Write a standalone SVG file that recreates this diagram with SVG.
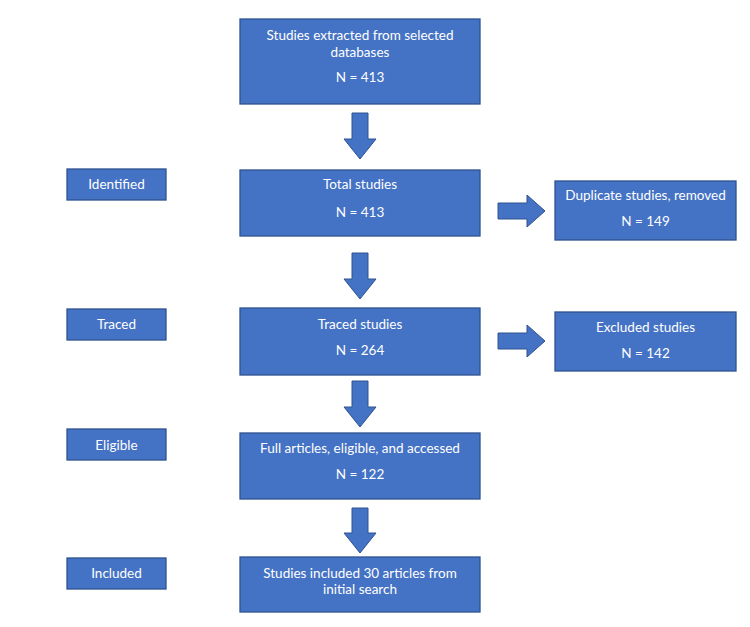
<svg xmlns="http://www.w3.org/2000/svg" width="750" height="627" viewBox="0 0 750 627">
<style>
.box{fill:#4472C4;stroke:#2F528F;stroke-width:1.3}
.arr{fill:#4472C4;stroke:#2F528F;stroke-width:1}
text{font-family:Lato,"Liberation Sans",sans-serif;font-size:13.5px;fill:#FFFFFF;text-anchor:middle}
</style>
<rect width="750" height="627" fill="#FFFFFF"/>
<g id="n-extracted"><rect class="box" x="240" y="19" width="240" height="85"/><text x="360" y="40">Studies extracted from selected</text><text x="360" y="57">databases</text><text x="360" y="82">N = 413</text></g>
<g id="n-total"><rect class="box" x="240" y="170" width="240" height="66"/><text x="360" y="189">Total studies</text><text x="360" y="217">N = 413</text></g>
<g id="n-traced"><rect class="box" x="240" y="308" width="240" height="67"/><text x="360" y="329">Traced studies</text><text x="360" y="355">N = 264</text></g>
<g id="n-full"><rect class="box" x="240" y="433" width="240" height="66"/><text x="360" y="453">Full articles, eligible, and accessed</text><text x="360" y="479">N = 122</text></g>
<g id="n-included"><rect class="box" x="240" y="557" width="240" height="55"/><text x="360" y="578">Studies included 30 articles from</text><text x="360" y="594">initial search</text></g>
<g id="n-duplicate"><rect class="box" x="555" y="181" width="181" height="59"/><text x="645.5" y="200">Duplicate studies, removed</text><text x="645.5" y="226">N = 149</text></g>
<g id="n-excluded"><rect class="box" x="555" y="312" width="181" height="59"/><text x="645.5" y="332">Excluded studies</text><text x="645.5" y="358">N = 142</text></g>
<g id="l-identified"><rect class="box" x="67" y="169" width="99" height="31"/><text x="116.5" y="189">Identified</text></g>
<g id="l-traced"><rect class="box" x="67" y="309" width="99" height="31"/><text x="116.5" y="329">Traced</text></g>
<g id="l-eligible"><rect class="box" x="67" y="429" width="99" height="31"/><text x="116.5" y="450">Eligible</text></g>
<g id="l-included"><rect class="box" x="67" y="558" width="99" height="31"/><text x="116.5" y="578">Included</text></g>
<g id="connectors">
<path class="arr" d="M352,113 H368 V139 H376 L360,159 L344,139 H352 Z"/>
<path class="arr" d="M352,253 H368 V279 H376 L360,299 L344,279 H352 Z"/>
<path class="arr" d="M352,381 H368 V407 H376 L360,427 L344,407 H352 Z"/>
<path class="arr" d="M352,508 H368 V533 H376 L360,553 L344,533 H352 Z"/>
<path class="arr" d="M498,203 H527 V195 L545,211 L527,227 V219 H498 Z"/>
<path class="arr" d="M498,333 H527 V325 L545,341 L527,357 V349 H498 Z"/>
</g>
</svg>
